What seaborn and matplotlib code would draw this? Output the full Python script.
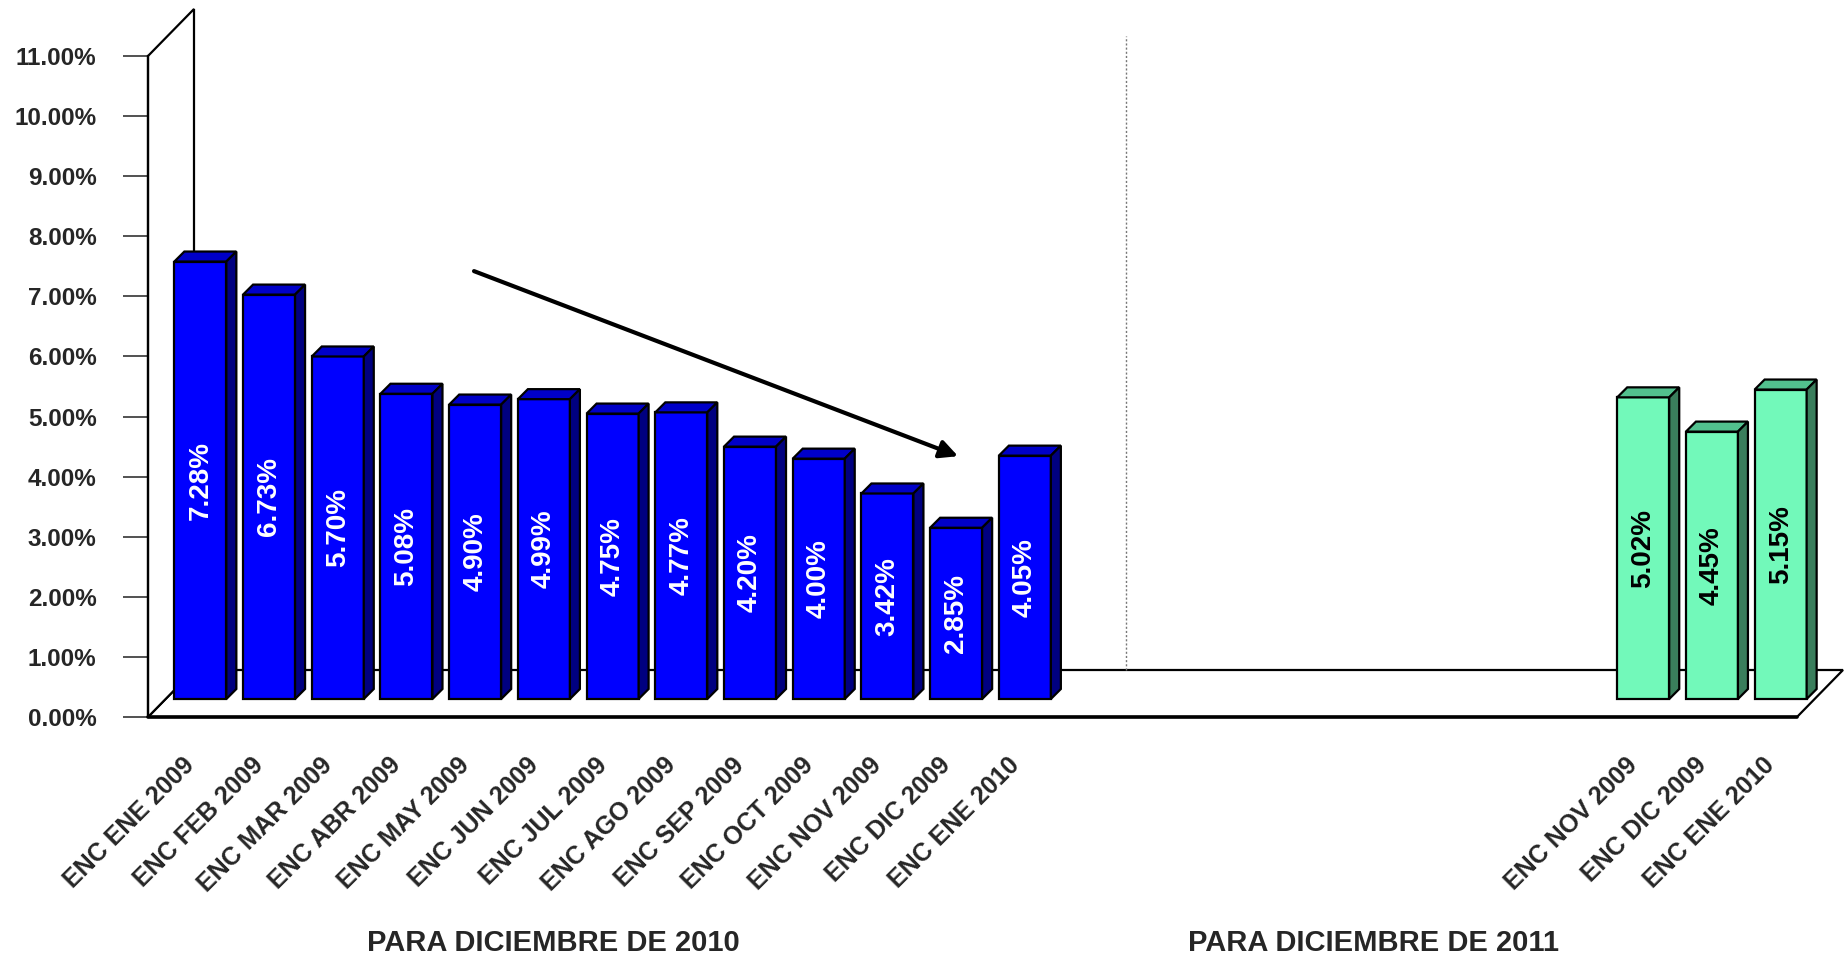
import matplotlib
matplotlib.use("Agg")
import matplotlib.pyplot as plt
import seaborn as sns
import pandas as pd
from matplotlib.patches import Polygon
from matplotlib.transforms import ScaledTranslation

# ---------------- data ----------------
labels_2010 = ["ENC ENE 2009", "ENC FEB 2009", "ENC MAR 2009", "ENC ABR 2009",
               "ENC MAY 2009", "ENC JUN 2009", "ENC JUL 2009", "ENC AGO 2009",
               "ENC SEP 2009", "ENC OCT 2009", "ENC NOV 2009", "ENC DIC 2009",
               "ENC ENE 2010"]
values_2010 = [7.28, 6.73, 5.70, 5.08, 4.90, 4.99, 4.75, 4.77, 4.20, 4.00, 3.42, 2.85, 4.05]
labels_2011 = ["ENC NOV 2009", "ENC DIC 2009", "ENC ENE 2010"]
values_2011 = [5.02, 4.45, 5.15]
group_labels = ["PARA DICIEMBRE DE 2010", "PARA DICIEMBRE DE 2011"]
yticks = list(range(0, 12))

# ---------------- layout ----------------
N_SLOTS = 24
slots_2010 = list(range(len(labels_2010)))
slots_2011 = list(range(N_SLOTS - len(labels_2011), N_SLOTS))

df = pd.DataFrame({
    "slot": slots_2010 + slots_2011,
    "value": values_2010 + values_2011,
    "group": [group_labels[0]] * len(values_2010) + [group_labels[1]] * len(values_2011),
})

FONT = "Liberation Sans"
sns.set_theme(style="white")
plt.rcParams["font.family"] = [FONT, "DejaVu Sans"]
plt.rcParams["font.weight"] = "bold"

W, H, DPI = 1848, 956, 100
fig = plt.figure(figsize=(W / DPI, H / DPI), dpi=DPI, facecolor="white")
# front plane of the pseudo-3D box (pixels)
L, R, T, B = 148, 1797, 56, 717
ax = fig.add_axes([L / W, 1 - B / H, (R - L) / W, (B - T) / H])
ax.set_facecolor("none")

front_colors = {group_labels[0]: "#0000FF", group_labels[1]: "#72F9BA"}
top_colors = {group_labels[0]: "#0000C8", group_labels[1]: "#52C08E"}
side_colors = {group_labels[0]: "#000080", group_labels[1]: "#3A7E5C"}
text_colors = {group_labels[0]: "white", group_labels[1]: "black"}

sns.barplot(data=df, x="slot", y="value", hue="group", order=list(range(N_SLOTS)),
            hue_order=group_labels, palette=front_colors, dodge=False,
            width=0.757, edgecolor="black", linewidth=1.6, legend=False,
            saturation=1, ax=ax, zorder=3)

ax.set_xlim(-0.5, N_SLOTS - 0.5)
ax.set_ylim(0, 11)

ppx = (R - L) / N_SLOTS
ppy = (B - T) / 11.0


def off(px, py):
    return px / ppx, py / ppy


# box depth offsets (pixels)
DEPTH = (46, 47)
BAR_FRONT = 18
BAR_BACK = 28

dX, dY = off(*DEPTH)
x0, x1 = -0.5, N_SLOTS - 0.5
floor = Polygon([(x0, 0), (x1, 0), (x1 + dX, dY), (x0 + dX, dY)], closed=True,
                facecolor="white", edgecolor="black", lw=1.6, zorder=0.5, clip_on=False)
ax.add_patch(floor)
wall = Polygon([(x0, 0), (x0, 11), (x0 + dX, 11 + dY), (x0 + dX, dY)], closed=True,
               facecolor="white", edgecolor="black", lw=1.6, zorder=0.6, clip_on=False)
ax.add_patch(wall)

# dotted divider on the back wall
div_x = 13.74
ax.plot([div_x, div_x], [dY, 11.33], color="#777777", lw=1.0, ls=(0, (1.5, 1.5)),
        zorder=0.7, clip_on=False)

# 3D faces for bars
fx, fy = off(BAR_FRONT, BAR_FRONT)
bx, by = off(BAR_BACK, BAR_BACK)
shift = ScaledTranslation(BAR_FRONT / DPI, BAR_FRONT / DPI, fig.dpi_scale_trans)
for container, grp in zip(ax.containers, group_labels):
    for rect in container.patches:
        h = rect.get_height()
        if not h == h:
            continue
        xa = rect.get_x()
        xb = xa + rect.get_width()
        rect.set_transform(ax.transData + shift)
        rect.set_clip_on(False)
        top = Polygon([(xa + fx, h + fy), (xb + fx, h + fy), (xb + bx, h + by), (xa + bx, h + by)],
                      closed=True, facecolor=top_colors[grp], edgecolor="black", lw=1.6,
                      zorder=3, clip_on=False)
        side = Polygon([(xb + fx, fy), (xb + bx, by), (xb + bx, h + by), (xb + fx, h + fy)],
                       closed=True, facecolor=side_colors[grp], edgecolor="black", lw=1.6,
                       zorder=3, clip_on=False)
        ax.add_patch(top)
        ax.add_patch(side)
        ax.text((xa + xb) / 2 + fx, h / 2 + fy, f"{h:.2f}%", rotation=90,
                ha="center", va="center", color=text_colors[grp], fontsize=20,
                fontweight="bold", zorder=6)

# trend arrow
ax.annotate("", xy=(11.29, 4.34), xytext=(4.245, 7.42),
            arrowprops=dict(arrowstyle="-|>,head_length=0.9,head_width=0.45",
                            lw=3, color="black", shrinkA=0, shrinkB=0),
            zorder=7, annotation_clip=False)

# axes styling
for s in ["top", "right", "bottom"]:
    ax.spines[s].set_visible(False)
ax.spines["left"].set_color("black")
ax.spines["left"].set_linewidth(1.6)
ax.axhline(0, color="black", lw=2.6, zorder=1, clip_on=False)

ax.set_yticks(yticks)
ax.set_yticklabels([f"{v:.2f}%" for v in yticks], fontsize=17.5, fontweight="bold")
ax.tick_params(axis="y", left=True, length=18, width=1.2, color="#333333", pad=19)

all_slots = slots_2010 + slots_2011
all_labels = labels_2010 + labels_2011
ax.set_xticks(all_slots)
ax.set_xticklabels(all_labels, rotation=45, ha="right", va="top",
                   rotation_mode="anchor", fontsize=18, fontweight="bold")
ax.tick_params(axis="x", bottom=False, length=0, pad=26)
ax.set_xlabel("")
ax.set_ylabel("")
ax.grid(False)

# group labels
fig.text(553 / W, 1 - 943 / H, group_labels[0], ha="center", va="center",
         fontsize=21, fontweight="bold")
fig.text(1374 / W, 1 - 943 / H, group_labels[1], ha="center", va="center",
         fontsize=21, fontweight="bold")

fig.savefig("out.png", dpi=DPI, facecolor="white")
